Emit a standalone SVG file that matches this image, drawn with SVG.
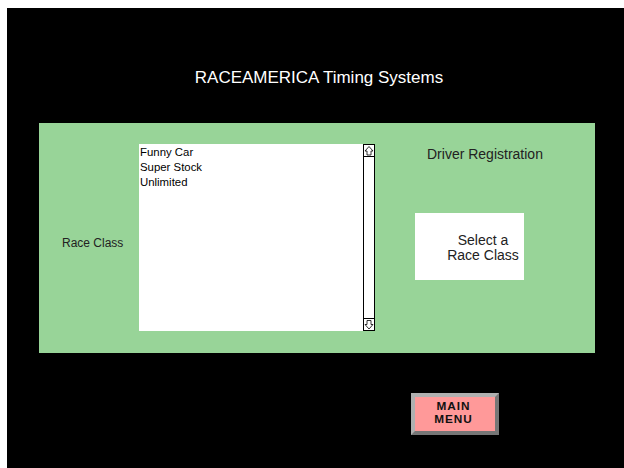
<svg xmlns="http://www.w3.org/2000/svg" width="624" height="468" viewBox="0 0 624 468">
<style>
text{font-family:"Liberation Sans",Arial,sans-serif}
.lbl{font-size:14px;fill:#222}
.item{font-size:11.4px;fill:#000}
.btn{font-size:11.8px;font-weight:bold;fill:#111;letter-spacing:1px}
</style>
<rect x="0" y="0" width="624" height="468" fill="#fff"/>
<rect x="7" y="8" width="617" height="460" fill="#000"/>
<g id="title"><text x="319" y="83" font-size="17" fill="#fff" text-anchor="middle">RACEAMERICA Timing Systems</text></g>
<g id="panel"><rect x="39" y="123" width="556" height="230" fill="#98d498"/></g>
<g id="raceClassLabel"><text x="62" y="247" font-size="12" fill="#222">Race Class</text></g>
<g id="listbox">
<rect x="139" y="144" width="236" height="187" fill="#fff"/>
<text class="item" x="140" y="156">Funny Car</text>
<text class="item" x="140" y="171">Super Stock</text>
<text class="item" x="140" y="186">Unlimited</text>
<rect x="363.5" y="144.5" width="11" height="186" fill="#fff" stroke="#000"/>
<line x1="363.5" y1="156.5" x2="374.5" y2="156.5" stroke="#000"/>
<line x1="363.5" y1="318.5" x2="374.5" y2="318.5" stroke="#000"/>
<path d="M369 146.5 L373 151 L371 151 L371 155 L367 155 L367 151 L365 151 Z" fill="#fff" stroke="#000" stroke-width="0.8"/>
<path d="M369 329 L373 324.5 L371 324.5 L371 320.5 L367 320.5 L367 324.5 L365 324.5 Z" fill="#fff" stroke="#000" stroke-width="0.8"/>
</g>
<g id="driverRegistration"><text class="lbl" x="427" y="159">Driver Registration</text></g>
<g id="selectBox">
<rect x="415" y="213" width="109" height="67" fill="#fff"/>
<text class="lbl" x="483" y="244.5" font-size="13.5" text-anchor="middle">Select a</text>
<text class="lbl" x="483" y="260" font-size="13.5" text-anchor="middle">Race Class</text>
</g>
<g id="mainMenu">
<rect x="411" y="393" width="88" height="42" fill="#777"/>
<polygon points="411,393 499,393 495,397 415,397 415,431 411,435" fill="#b0b0b0"/>
<rect x="415" y="397" width="80" height="34" fill="#ff9999"/>
<text class="btn" x="453.5" y="409.5" text-anchor="middle">MAIN</text>
<text class="btn" x="453.5" y="423" text-anchor="middle">MENU</text>
</g>
</svg>
